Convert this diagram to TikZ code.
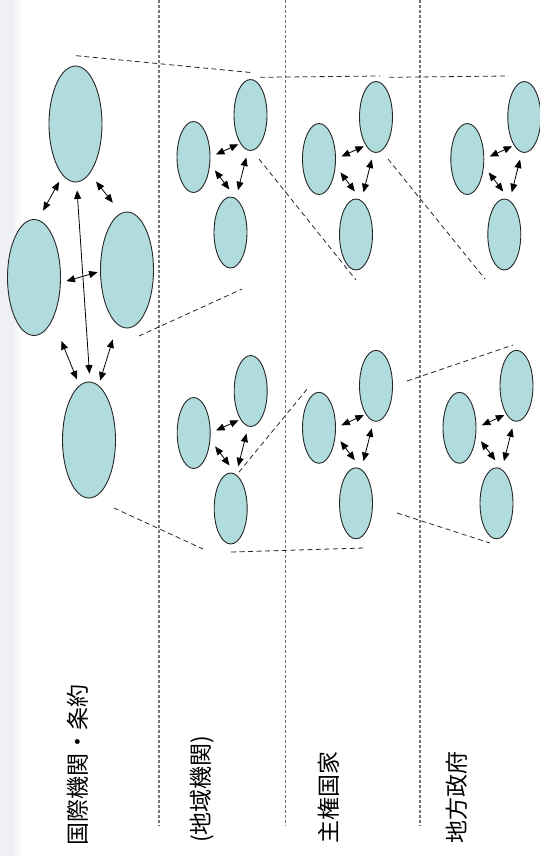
\documentclass[tikz,border=0pt]{standalone}
\usepackage{fontspec}
\newfontfamily\jpfont{Noto Sans CJK JP}
\usepackage{tikz}
\usetikzlibrary{shapes.geometric,arrows.meta}
\definecolor{cellfill}{HTML}{B0DCDE}
\definecolor{edge}{HTML}{EEF0F3}
\def\trio(#1)(#2,#3){%
	\node[cell] (#1a) at (#2,#3) {};
	\node[cell] (#1b) at (#2+57,#3-42) {};
	\node[cell] (#1c) at (#2+37,#3+75.5) {};
	\draw[link, shorten <=6pt, shorten >=2pt] (#1a.0) -- (#1b.250);
	\draw[link, shorten <=8pt, shorten >=11.8pt] (#1a.-23) -- (#1c.80);
	\draw[link, shorten <=7.2pt, shorten >=8.4pt] (#1b.266) -- (#1c.81);
}

\begin{document}
\begin{tikzpicture}[x=1pt, y=-1pt,
	cell/.style={ellipse, draw=black!85, line width=0.9pt, fill=cellfill, inner sep=0pt, minimum width=33pt, minimum height=71pt},
	big/.style={cell, minimum width=53pt, minimum height=116pt},
	link/.style={<->, >={Triangle[length=8.5pt,width=7pt]}, line width=0.8pt},
	sep/.style={draw=black!55, line width=1.2pt, dash pattern=on 3pt off 2pt},
	proj/.style={draw=black!85, line width=0.8pt, dash pattern=on 5pt off 3.5pt},
	lvl/.style={rotate=90, anchor=west, inner sep=0pt, font=\jpfont\fontsize{23pt}{23pt}\selectfont}]
	%%%%% START %%%%%
	\useasboundingbox (0,0) rectangle (539,856);
	\fill[edge] (0,0) rectangle (12,856);
	\shade[left color=edge, right color=white] (12,0) rectangle (22,856);
	
	\draw[sep] (159,0) -- (159,826);
	\draw[sep] (285.3,0) -- (285.3,826);
	\draw[sep] (420,0) -- (420,826);
	
	% projection lines
	\draw[proj] (76,55.7) -- (252.7,72.7);
	\draw[proj] (260,77.3) -- (380,76);
	\draw[proj] (389.3,77.3) -- (508.3,76);
	\draw[proj] (139,336) -- (242,289);
	\draw[proj] (114,508) -- (203,549);
	\draw[proj] (231,552) -- (364,548);
	\draw[proj] (239,472) -- (308,388);
	\draw[proj] (259,159) -- (356,280);
	\draw[proj] (388,159) -- (485,279);
	\draw[proj] (407,381) -- (513,345);
	\draw[proj] (397,513) -- (490,543);
	
	% big group
	\node[big] (gT) at (75.5,124) {};
	\node[big] (gL) at (34,277.5) {};
	\node[big] (gR) at (127,270) {};
	\node[big] (gB) at (89,440) {};
	\draw[link, shorten <=7.4pt, shorten >=10.4pt] (gT.-104.5) -- (gL.86);
	\draw[link, shorten <=10.2pt, shorten >=13.2pt] (gT.-74) -- (gR.96);
	\draw[link, shorten <=5.8pt, shorten >=2.6pt] (gL.-11) -- (gR.183);
	\draw[link, shorten <=8pt, shorten >=8pt] (gT.-89) -- (gB.89.5);
	\draw[link, shorten <=23.1pt, shorten >=6.4pt] (gL.-66.6) -- (gB.100);
	\draw[link, shorten <=15.5pt, shorten >=5pt] (gR.260) -- (gB.80);
	
	% small groups
	\trio(r1)(193.5,157)
	\trio(n1)(319,159)
	\trio(l1)(467.3,159)
	\trio(r2)(193.7,433)
	\trio(n2)(319,427.8)
	\trio(l2)(459.5,427.8)
	
	\node[lvl] (lvInt) at (78,846) {国際機関・条約};
	\node[lvl] (lvReg) at (202.5,843) {(地域機関)};
	\node[lvl] (lvNat) at (329,844) {主権国家};
	\node[lvl] (lvLoc) at (457,844) {地方政府};
	%%%%% END %%%%%
\end{tikzpicture}
\end{document}
